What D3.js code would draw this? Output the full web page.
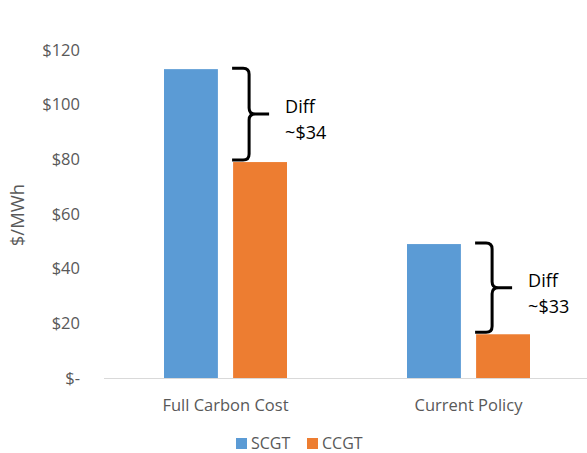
<!DOCTYPE html>
<html>
<head>
<meta charset="utf-8">
<script src="https://cdn.jsdelivr.net/npm/d3@7"></script>
<style>
  html, body { margin: 0; padding: 0; background: #fff; }
  svg { display: block; font-family: "Open Sans", "Segoe UI", sans-serif; }
</style>
</head>
<body>
<svg id="chart" width="587" height="453"></svg>
<script>
// Levelised cost by scenario, $/MWh
const categories = ["Full Carbon Cost", "Current Policy"];
const seriesNames = ["SCGT", "CCGT"];
const scgtValues = [113, 49];
const ccgtValues = [79, 16];
const yTicks = [0, 20, 40, 60, 80, 100, 120];
const yTickLabels = ["$-", "$20", "$40", "$60", "$80", "$100", "$120"];
const diffLabels = ["~$34", "~$33"];
const colors = ["#5B9BD5", "#ED7D31"];

const svg = d3.select("#chart");
const plot = { left: 104, right: 590, top: 50, bottom: 378 };

const x = d3.scaleBand().domain(categories).range([plot.left, plot.right]).paddingInner(0).paddingOuter(0);
const xInner = d3.scaleBand().domain(seriesNames).range([60, x.bandwidth() - 60]).paddingInner(0.22);
const y = d3.scaleLinear().domain([0, 120]).range([plot.bottom, plot.top]);

const rows = categories.map((c, i) => ({ category: c, values: [scgtValues[i], ccgtValues[i]] }));

// y tick labels (no gridlines)
svg.append("g").selectAll("text").data(yTicks).join("text")
  .attr("x", 80).attr("y", d => y(d)).attr("dy", "0.35em")
  .attr("text-anchor", "end").attr("fill", "#595959").attr("font-size", 16.5)
  .text((d, i) => yTickLabels[i]);

// y axis title
svg.append("text")
  .attr("transform", `translate(24,${(plot.top + plot.bottom) / 2 + 1}) rotate(-90)`)
  .attr("text-anchor", "middle").attr("fill", "#595959").attr("font-size", 18.5)
  .text("$/MWh");

// bars
const groups = svg.append("g").selectAll("g").data(rows).join("g")
  .attr("transform", d => `translate(${x(d.category)},0)`);
groups.selectAll("rect").data(d => d.values.map((v, j) => ({ key: seriesNames[j], v, j }))).join("rect")
  .attr("x", d => xInner(d.key)).attr("width", xInner.bandwidth())
  .attr("y", d => y(d.v)).attr("height", d => y(0) - y(d.v))
  .attr("fill", d => colors[d.j]);

// baseline
svg.append("line")
  .attr("x1", plot.left).attr("x2", plot.right)
  .attr("y1", y(0) + 0.5).attr("y2", y(0) + 0.5)
  .attr("stroke", "#d9d9d9").attr("stroke-width", 1);

// category labels
svg.append("g").selectAll("text").data(categories).join("text")
  .attr("x", d => x(d) + x.bandwidth() / 2).attr("y", 411)
  .attr("text-anchor", "middle").attr("fill", "#595959").attr("font-size", 16.5)
  .text(d => d);

// difference braces
rows.forEach((r, i) => {
  const x0 = x(r.category) + xInner("CCGT") - 1;
  const x1 = x0 + 17, r0 = 6, xt = x1 + 20;
  const yTop = y(r.values[0]) - 1, yBot = y(r.values[1]) - 2;
  const ym = (yTop + yBot) / 2;
  const p = d3.path();
  p.moveTo(x0, yTop); p.lineTo(x1 - r0, yTop);
  p.quadraticCurveTo(x1, yTop, x1, yTop + r0);
  p.lineTo(x1, ym - r0);
  p.quadraticCurveTo(x1, ym, x1 + r0, ym);
  p.lineTo(xt, ym);
  p.moveTo(x1 + r0, ym);
  p.quadraticCurveTo(x1, ym, x1, ym + r0);
  p.lineTo(x1, yBot - r0);
  p.quadraticCurveTo(x1, yBot, x1 - r0, yBot);
  p.lineTo(x0, yBot);
  svg.append("path").attr("d", p.toString())
    .attr("fill", "none").attr("stroke", "#000").attr("stroke-width", 3)
    .attr("stroke-linecap", "butt").attr("stroke-linejoin", "round");
  const t = svg.append("text").attr("fill", "#000").attr("font-size", 18);
  t.append("tspan").attr("x", xt + 16).attr("y", ym - 1).text("Diff");
  t.append("tspan").attr("x", xt + 16).attr("y", ym + 25).text(diffLabels[i]);
});

// legend
const legend = svg.append("g").selectAll("g").data(seriesNames).join("g")
  .attr("transform", (d, i) => `translate(${236 + i * 71},438)`);
legend.append("rect").attr("width", 11).attr("height", 11).attr("fill", (d, i) => colors[i]);
legend.append("text").attr("x", 15).attr("y", 11).attr("fill", "#595959").attr("font-size", 16).text(d => d);
</script>
</body>
</html>
